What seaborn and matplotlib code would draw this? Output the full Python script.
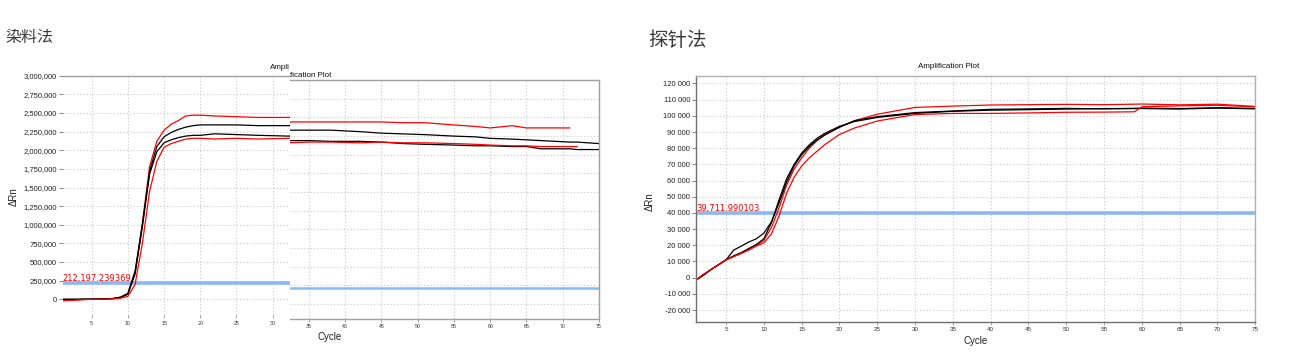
import numpy as np
import pandas as pd
import matplotlib
matplotlib.use("Agg")
import matplotlib.pyplot as plt
import seaborn as sns
from matplotlib.ticker import FuncFormatter, FixedLocator

sns.set_theme(style="white")
plt.rcParams['font.family'] = ['Liberation Sans', 'Noto Sans CJK SC', 'DejaVu Sans']

# ---------------- data ----------------
panel_titles = ["染料法", "探针法"]
plot_title = "Amplification Plot"
x_label = "Cycle"
y_label = "ΔRn"

# dye method (values in ΔRn)
dye_cycles = [1, 2, 3, 4, 5, 6, 7, 8, 9, 10, 11, 12, 13, 14, 15, 16, 17, 18, 19, 20,
              22, 25, 28, 32, 35, 38, 42, 45, 48, 51, 55, 58, 60, 63, 65, 67, 71, 72, 75]
dye_red_high = [-15e3, -10e3, -5e3, 0, 0, 2e3, 5e3, 10e3, 25e3, 70e3, 360e3, 1.02e6, 1.78e6, 2.12e6,
                2.27e6, 2.35e6, 2.40e6, 2.46e6, 2.47e6, 2.47e6, 2.46e6, 2.45e6, 2.44e6, 2.44e6,
                2.44e6, 2.44e6, 2.44e6, 2.44e6, 2.43e6, 2.43e6, 2.40e6, 2.38e6, 2.36e6, 2.39e6,
                2.36e6, 2.36e6, 2.36e6, np.nan, np.nan]
dye_black_high = [0, 0, 0, 2e3, 3e3, 4e3, 6e3, 12e3, 30e3, 80e3, 380e3, 1.00e6, 1.72e6, 2.05e6,
                  2.18e6, 2.24e6, 2.28e6, 2.31e6, 2.33e6, 2.34e6, 2.34e6, 2.34e6, 2.33e6, 2.33e6,
                  2.33e6, 2.33e6, 2.31e6, 2.29e6, 2.28e6, 2.27e6, 2.25e6, 2.24e6, 2.22e6, 2.21e6,
                  2.20e6, 2.19e6, 2.17e6, 2.17e6, 2.15e6]
dye_black_low = [0, 0, 0, 1e3, 2e3, 3e3, 5e3, 10e3, 25e3, 70e3, 340e3, 0.97e6, 1.68e6, 1.98e6,
                 2.10e6, 2.14e6, 2.17e6, 2.19e6, 2.20e6, 2.20e6, 2.22e6, 2.21e6, 2.20e6, 2.19e6,
                 2.19e6, 2.18e6, 2.18e6, 2.17e6, 2.15e6, 2.14e6, 2.13e6, 2.12e6, 2.12e6, 2.11e6,
                 2.11e6, 2.08e6, 2.08e6, 2.07e6, 2.07e6]
dye_red_low = [-20e3, -15e3, -10e3, -5e3, 0, 0, 3e3, 6e3, 15e3, 40e3, 200e3, 0.75e6, 1.45e6, 1.85e6,
               2.04e6, 2.09e6, 2.12e6, 2.15e6, 2.16e6, 2.16e6, 2.15e6, 2.16e6, 2.15e6, 2.16e6,
               2.17e6, 2.17e6, 2.16e6, 2.17e6, 2.16e6, 2.16e6, 2.15e6, 2.14e6, 2.13e6, 2.12e6,
               2.12e6, 2.11e6, 2.11e6, 2.11e6, np.nan]
dye_threshold = 212197.239369
dye_yticks = [0, 250000, 500000, 750000, 1000000, 1250000, 1500000, 1750000, 2000000,
              2250000, 2500000, 2750000, 3000000]
dye_xticks_left = [5, 10, 15, 20, 25, 30]
dye_xticks_right = [35, 40, 45, 50, 55, 60, 65, 70, 75]

# probe method (values in ΔRn)
probe_cycles = [1, 2, 3, 4, 5, 6, 7, 8, 9, 10, 11, 12, 13, 14, 15, 16, 17, 18, 20, 22,
                25, 30, 35, 40, 45, 50, 55, 59, 60, 65, 70, 75]
probe_black_a = [-1.5e3, 1.5e3, 5e3, 8e3, 11e3, 17e3, 19.5e3, 22e3, 24e3, 27.5e3, 34.5e3, 46e3,
                 59e3, 69e3, 76e3, 81e3, 85e3, 88e3, 93e3, 97e3, 99.5e3, 102e3, 103e3, 104e3,
                 104.3e3, 104.6e3, 104.3e3, 104.6e3, 104.8e3, 104.5e3, 105e3, 104.6e3]
probe_black_b = [-1.5e3, 1.5e3, 5e3, 8e3, 11e3, 13.5e3, 15.5e3, 18e3, 20.5e3, 24e3, 34e3, 48e3,
                 61e3, 70e3, 77e3, 82e3, 86e3, 89e3, 93.5e3, 96.5e3, 99e3, 101.5e3, 102.8e3,
                 103.5e3, 103.8e3, 104.2e3, 104.5e3, 104.5e3, 104.5e3, 104.2e3, 104.8e3, 104.3e3]
probe_red_a = [-1.5e3, 2e3, 5e3, 8e3, 11e3, 13e3, 15e3, 17.5e3, 20e3, 23e3, 31e3, 43e3, 57e3,
               67e3, 74e3, 80e3, 84.5e3, 88e3, 93e3, 97e3, 101e3, 105.2e3, 106e3, 106.7e3,
               106.9e3, 107.1e3, 106.9e3, 107.2e3, 107.3e3, 106.8e3, 107.2e3, 105.8e3]
probe_red_b = [-1.5e3, 2e3, 5e3, 8e3, 11e3, 13e3, 15e3, 17e3, 19.5e3, 21.5e3, 27e3, 38e3, 52e3,
               62e3, 69e3, 74e3, 78e3, 82e3, 88.5e3, 92.5e3, 96.8e3, 100.8e3, 101.5e3, 101.5e3,
               101.8e3, 102.2e3, 102.3e3, 102.5e3, 105.6e3, 106.2e3, 106.5e3, 105.6e3]
probe_threshold = 39711.990103
probe_yticks = [-20000, -10000, 0, 10000, 20000, 30000, 40000, 50000, 60000, 70000, 80000,
                90000, 100000, 110000, 120000]
probe_xticks = [5, 10, 15, 20, 25, 30, 35, 40, 45, 50, 55, 60, 65, 70, 75]

# ---------------- tables ----------------
def long_table(cycles, series):
    frames = []
    for name, vals in series.items():
        frames.append(pd.DataFrame({"Cycle": cycles, "dRn": vals, "well": name}))
    return pd.concat(frames, ignore_index=True)

dye_df = long_table(dye_cycles, {"red_high": dye_red_high, "black_high": dye_black_high,
                                 "black_low": dye_black_low, "red_low": dye_red_low})
probe_df = long_table(probe_cycles, {"red_a": probe_red_a, "black_a": probe_black_a,
                                     "black_b": probe_black_b, "red_b": probe_red_b})
palette = {"red_high": "#ff0000", "red_low": "#ff0000", "red_a": "#ff0000", "red_b": "#ff0000",
           "black_high": "#000000", "black_low": "#000000", "black_a": "#000000", "black_b": "#000000"}

# ---------------- figure ----------------
W, H = 1302, 355
fig = plt.figure(figsize=(W / 100, H / 100), dpi=100)
fig.patch.set_facecolor("white")

def add_ax(x0, y0, x1, y1):
    return fig.add_axes([x0 / W, 1 - y1 / H, (x1 - x0) / W, (y1 - y0) / H])

GRID = dict(color="#cfcfcf", linestyle=(0, (1.2, 1.8)), linewidth=0.8)
THR = "#8ab8f2"

def style_axis(ax, spines, spine_color="#a0a0a0"):
    for s in ["top", "bottom", "left", "right"]:
        ax.spines[s].set_visible(s in spines)
        ax.spines[s].set_color(spine_color)
        ax.spines[s].set_linewidth(1.0)
    ax.set_axisbelow(True)
    ax.grid(True, **GRID)
    ax.set_xlabel("")
    ax.set_ylabel("")

comma_fmt = FuncFormatter(lambda v, p: f"{int(round(v)):,}")
space_fmt = FuncFormatter(lambda v, p: f"{int(round(v)):,}".replace(",", " "))

# ----- left chart: part 1 -----
a1 = add_ax(62.7, 75.7, 290, 315)
sns.lineplot(data=dye_df, x="Cycle", y="dRn", hue="well", palette=palette, estimator=None,
             legend=False, linewidth=0.9, ax=a1)
a1.axhline(dye_threshold, color=THR, linewidth=2.6, zorder=1.5)
a1.set_xlim(1, 32.39)
a1.set_ylim(-210600, 3000000)
a1.yaxis.set_major_locator(FixedLocator(dye_yticks))
a1.yaxis.set_major_formatter(comma_fmt)
a1.xaxis.set_major_locator(FixedLocator(dye_xticks_left))
style_axis(a1, ["top"])
a1.tick_params(axis="y", which="major", left=True, length=3, width=0.6, color="#707070",
               labelsize=5.5, pad=1, labelcolor="#222222")
a1.tick_params(axis="x", which="major", bottom=True, length=2, width=0.6, color="#909090",
               labelsize=3.8, pad=2, labelcolor="#333333")
a1.text(dye_cycles[0], dye_threshold, f"{dye_threshold:,.6f}", color="#ff0000",
        fontsize=6, family="DejaVu Sans", va="bottom", ha="left", zorder=5)
a1.text(1.0, 1.02, "Ampli", transform=a1.transAxes, ha="right", va="bottom", fontsize=5.8,
        color="#111111")

# ----- left chart: part 2 -----
a2 = add_ax(290, 80, 599, 318.5)
sns.lineplot(data=dye_df, x="Cycle", y="dRn", hue="well", palette=palette, estimator=None,
             legend=False, linewidth=0.9, ax=a2)
a2.axhline(dye_threshold, color=THR, linewidth=1.8, zorder=1.5)
a2.set_xlim(32.39, 75)
a2.set_ylim(-197000, 3003000)
a2.yaxis.set_major_locator(FixedLocator(dye_yticks))
a2.set_yticklabels([])
a2.xaxis.set_major_locator(FixedLocator(dye_xticks_right))
style_axis(a2, ["top", "bottom", "right"])
a2.tick_params(axis="y", left=False)
a2.tick_params(axis="x", which="major", bottom=True, length=2, width=0.6, color="#909090",
               labelsize=3.8, pad=2, labelcolor="#333333")
a2.text(0.0, 1.003, "fication Plot", transform=a2.transAxes, ha="left", va="bottom",
        fontsize=5.8, color="#111111")

# ----- right chart -----
b = add_ax(695.8, 75.7, 1255.3, 321.7)
sns.lineplot(data=probe_df, x="Cycle", y="dRn", hue="well", palette=palette, estimator=None,
             legend=False, linewidth=0.9, ax=b)
b.axhline(probe_threshold, color=THR, linewidth=2.6, zorder=1.5)
b.set_xlim(1, 75)
b.set_ylim(-27200, 124800)
b.yaxis.set_major_locator(FixedLocator(probe_yticks))
b.yaxis.set_major_formatter(space_fmt)
b.xaxis.set_major_locator(FixedLocator(probe_xticks))
style_axis(b, ["top", "bottom", "left", "right"], spine_color="#b0b0b0")
b.spines["left"].set_color("#707070")
b.spines["bottom"].set_color("#707070")
b.tick_params(axis="y", which="major", left=True, length=3, width=0.6, color="#707070",
              labelsize=5.5, pad=1, labelcolor="#222222")
b.tick_params(axis="x", which="major", bottom=True, length=2, width=0.6, color="#909090",
              labelsize=4.5, pad=2, labelcolor="#333333")
b.text(probe_cycles[0], probe_threshold, f"{probe_threshold:,.6f}", color="#ff0000",
       fontsize=6, family="DejaVu Sans", va="bottom", ha="left", zorder=5)
fig.text(948.5 / W, 1 - 67 / H, plot_title, ha="center", va="center", fontsize=5.8,
         color="#111111")

# axis labels
fig.text(14 / W, 1 - 197 / H, y_label, rotation=90, ha="center", va="center", fontsize=7,
         color="#222222")
fig.text(330 / W, 1 - 337 / H, x_label, ha="center", va="center", fontsize=7, color="#222222")
fig.text(650 / W, 1 - 202 / H, y_label, rotation=90, ha="center", va="center", fontsize=7,
         color="#222222")
fig.text(976 / W, 1 - 341.5 / H, x_label, ha="center", va="center", fontsize=7, color="#222222")

# panel titles
fig.text(5 / W, 1 - 37.5 / H, panel_titles[0], ha="left", va="center", fontsize=11.5,
         color="#3a3a3a", family=["Noto Sans CJK SC", "DejaVu Sans"])
fig.text(648 / W, 1 - 41 / H, panel_titles[1], ha="left", va="center", fontsize=14,
         color="#3a3a3a", family=["Noto Sans CJK SC", "DejaVu Sans"])

fig.savefig("out.png", dpi=100, facecolor="white")
